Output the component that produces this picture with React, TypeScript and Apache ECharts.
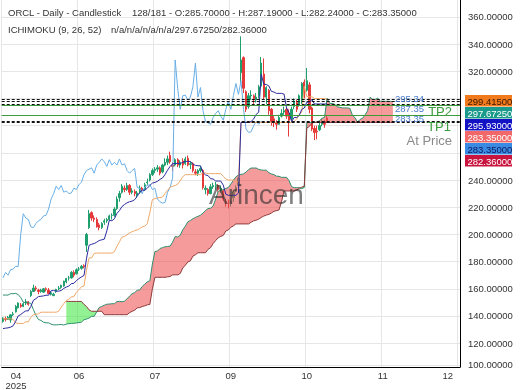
import React, { useEffect, useRef } from "react";
import * as echarts from "echarts";

// Look-back bars (not displayed) needed by the Ichimoku windows, Feb 10 – Apr 24 2025: [open, high, low, close]
const historyBars: number[][] = [
  [177, 181, 176, 180], [180, 182, 178, 179], [178, 181, 176, 180], [180, 182, 179, 181],
  [181, 182, 178, 179], [179, 182.3, 177, 178], [178, 182.5, 176, 177], [176, 178, 172, 174],
  [174, 175, 166, 167], [167, 170, 163, 164], [164, 166, 159, 162], [162, 166, 161, 164],
  [164, 165, 158, 159], [159, 167, 157, 166], [166, 168, 157, 158], [157, 160, 153, 157],
  [157, 161, 155, 160], [158, 159, 149, 150], [150, 153, 146, 152], [150, 151, 143, 146],
  [146, 148, 142, 144], [150, 155, 148, 151], [150, 151, 144, 145], [146, 150, 145, 149],
  [149, 152, 147, 151], [150, 151, 146, 147], [147, 153, 146, 152], [150, 153, 148, 150],
  [149, 153, 147, 152], [155, 157, 154, 156], [156, 157, 154, 155], [155, 156, 149, 150],
  [150, 151, 146, 147], [147, 148, 141, 142], [141, 142, 137, 140], [139, 142, 138, 141],
  [139, 145, 139, 144], [139, 141, 136, 138], [135, 136, 127, 128], [122, 130, 118.86, 124],
  [128, 131, 119.5, 121], [121, 139, 120, 137], [133, 134, 125, 129], [129, 133, 127, 132],
  [133, 135, 130, 132], [132, 134, 130, 131], [130, 132, 126, 128], [128, 129, 125, 128],
  [127, 128, 122.5, 124], [125, 129, 124, 128], [131, 134, 130, 133], [133, 137.5, 132, 137],
];

// Displayed daily bars, Apr 25 – Oct 28 2025: [open, high, low, close]
const bars: number[][] = [
  [136, 139, 135, 138.5], [138, 139.5, 136, 137.5], [137.5, 140, 137, 139], [137, 141, 135, 140.8],
  [141, 143, 140, 141.5], [143, 148, 142.5, 147], [146, 150, 145.5, 149.5], [148, 149.5, 146, 147],
  [147, 150, 146.5, 149], [149.5, 152.5, 148, 150.5], [150.5, 151, 147.5, 148.5], [155, 159, 154, 158],
  [158, 163, 157.5, 160.5], [160.5, 162, 158.5, 160], [159, 160, 156, 158], [158, 160, 157, 159],
  [157.5, 160.5, 157, 160], [160, 161, 158, 159.5], [159, 160.5, 156, 156.5], [156, 158, 155, 157],
  [155, 157, 154.5, 156], [158, 160, 157, 159.5], [160, 162, 159, 160.5], [161, 163, 160, 162.5],
  [162, 166, 161.5, 165.5], [165, 168, 164, 167.5], [168, 169.5, 166, 168], [168, 173, 167.5, 172],
  [172, 173.5, 168.5, 170], [171, 175, 170.5, 174], [174.5, 176, 173, 174.5], [175, 177.5, 174, 176.5],
  [177, 178, 175, 176.4], [192, 201, 187, 199.9], [205, 218, 204, 215.2], [216, 217, 210, 212],
  [212, 214, 209, 211], [211, 212.5, 205, 205.5], [207, 208.5, 203, 205], [205, 209, 204, 208],
  [209, 211.5, 207, 210], [210, 212, 208.5, 211], [211, 214.5, 210, 213.6], [214, 215.5, 211, 214],
  [214, 220, 213, 218.6], [219, 228, 218, 226], [227, 232, 224, 230], [231, 237, 230, 235.5],
  [234, 236, 231, 233], [233, 238, 232, 236], [236, 237, 229, 231], [231, 234, 229.5, 232],
  [231.5, 233, 228, 230], [229, 232, 227, 230.5], [231, 236, 230, 234], [234, 235, 231, 233],
  [233, 238, 232, 236.5], [238, 241, 236.5, 238.5], [240, 245, 239, 244], [244, 248.5, 243, 247],
  [247, 249.5, 245, 248], [248, 251, 246, 249], [249, 250, 243.5, 245], [246, 252, 245, 251],
  [251, 256, 250, 253], [253, 258, 251, 255.5], [258, 260.9, 252, 253.5], [251, 253, 246.5, 250],
  [251, 256, 250, 255], [255, 256, 249.5, 251], [251, 254.5, 249, 253], [254, 256, 248.5, 251],
  [252, 257, 251, 255.5], [256, 258, 250, 251], [251.5, 253.5, 248, 252], [252, 253, 245.5, 247],
  [246, 248, 243.5, 245], [245, 248, 243, 247], [247, 250, 245.5, 248.5], [247, 248, 233, 234.5],
  [233, 236, 229.5, 234], [233, 234, 228.5, 230], [230, 237, 229.5, 235], [235, 238, 233.5, 236],
  [236, 238.5, 233, 236.5], [236, 237, 231.5, 233], [233, 236, 230.5, 234], [232, 233, 224.5, 226],
  [224, 226, 220.5, 224], [223, 225.5, 219.02, 223], [223, 225, 220.5, 223.5], [227, 232.5, 224, 231],
  [232, 236, 231, 234.5], [236, 242, 234, 241.5], [319, 345.7, 312, 328.3], [330, 331, 304, 307.5],
  [305, 306, 290, 292], [294, 304, 292.5, 302], [302, 306, 299, 302.5], [302, 303, 296, 299],
  [299, 304, 297, 301], [302, 310, 300, 308.5], [309, 330.5, 307, 326], [318, 329.43, 299, 301],
  [301, 309, 296, 308], [306, 307, 288, 291], [292, 293, 280, 283], [285, 287, 279, 282],
  [282, 284, 277, 281], [281, 288, 280.5, 286], [287, 292, 286, 289], [290, 294, 288, 291],
  [292, 293, 285, 287], [289, 292, 272, 284], [285, 294, 284, 292], [294, 300, 292, 298],
  [297, 299, 290, 292], [296, 303, 294, 302], [298, 312, 296, 311], [312, 314, 300, 303],
  [306, 322.46, 305, 313], [310, 312, 289, 292], [293, 294, 276, 277.5], [278, 280, 269.4, 275],
  [276, 280, 270, 275.5], [277, 283, 276, 280], [281, 285, 279.5, 283], [283, 284, 278.5, 281],
  [285.7, 287.19, 282.24, 283.35],
];

const slotCount = 181;
const xLabels: Record<number, string> = { 0: "04", 30: "06", 60: "07", 90: "09", 120: "10", 150: "11", 180: "12" };
const yLabelValues = [120, 140, 160, 180, 200, 220, 240, 320, 340, 360];
const yGridValues = [120, 140, 160, 180, 200, 220, 240, 260, 280, 300, 320, 340, 360];
const dashedLevels = [299.415, 297.6725, 295.93, 283.35, 282.36];
const targetLevels = [295.34, 287.35];
const priceTags = [
  { text: "299.41500", bg: "#f07a1c", fg: "#3a1600" },
  { text: "297.67250", bg: "#1a9a8a", fg: "#ffffff" },
  { text: "295.93000", bg: "#1212c4", fg: "#ffffff" },
  { text: "283.35000", bg: "#f26868", fg: "#ffffff" },
  { text: "283.35000", bg: "#3a8ae4", fg: "#0c1a5a" },
  { text: "282.36000", bg: "#c8143e", fg: "#ffffff" },
];

const FONT = "Liberation Sans, Arial, sans-serif";

export default function App() {
  const ref = useRef<HTMLDivElement>(null);
  useEffect(() => {
    if (!ref.current) return;
    const chart = echarts.init(ref.current, undefined, { renderer: "svg" });
    const all = historyBars.concat(bars);
    const H0 = historyBars.length;
    const mid = (n: number, g: number): number | null => {
      if (g - n + 1 < 0 || g >= all.length) return null;
      let hi = -Infinity, lo = Infinity;
      for (let j = g - n + 1; j <= g; j++) { hi = Math.max(hi, all[j][1]); lo = Math.min(lo, all[j][2]); }
      return (hi + lo) / 2;
    };
    const tenkan = bars.map((_, k) => mid(9, k + H0));
    const kijun = bars.map((_, k) => mid(26, k + H0));
    const spanA: (number | null)[] = [];
    const spanB: (number | null)[] = [];
    for (let k = 0; k < bars.length + 26; k++) {
      const g = k - 26 + H0;
      const t = mid(9, g), kj = mid(26, g);
      spanA.push(t != null && kj != null ? (t + kj) / 2 : null);
      spanB.push(mid(52, g));
    }
    const chikou = bars.slice(26).map((b) => b[3]);
    const base = spanA.map((a, i) => (a != null && spanB[i] != null ? Math.min(a, spanB[i] as number) : null));
    const red = spanA.map((a, i) => (a != null && spanB[i] != null ? Math.max(a - (spanB[i] as number), 0) : null));
    const green = spanA.map((a, i) => (a != null && spanB[i] != null ? Math.max((spanB[i] as number) - a, 0) : null));
    const cats = Array.from({ length: slotCount }, (_, i) => String(i));

    const txt = (text: string, x: number, y: number, size: number, fill: string, align = "left") => ({
      type: "text", silent: true, z: 100,
      style: { text, x, y, fill, font: `${size}px ${FONT}`, textAlign: align, textVerticalAlign: "middle" },
    });

    const graphics: any[] = [
      { type: "line", silent: true, z: 0, shape: { x1: 0, y1: 365.5, x2: 460, y2: 365.5 }, style: { stroke: "#e6e6e6", lineWidth: 1 } },
      txt("ORCL - Daily - Candlestick", 8, 12, 9.5, "#333"),
      txt("128/181 - O:285.70000 - H:287.19000 - L:282.24000 - C:283.35000", 132, 12, 9.5, "#333"),
      txt("ICHIMOKU (9, 26, 52)", 8, 29, 9.5, "#333"),
      txt("n/a/n/a/n/a/n/a/297.67250/282.36000", 111, 29, 9.5, "#333"),
      txt("100.00000", 468, 364, 9.5, "#333"),
      txt("295.34", 395, 98.5, 9.5, "#4a7ccc"),
      txt("287.35", 395, 108.5, 9.5, "#4a7ccc"),
      txt("283.35", 395, 118.5, 9.5, "#4a7ccc"),
      txt("TP2", 452, 111.5, 13, "#3c9c3c", "right"),
      txt("TP1", 451, 126, 13, "#3c9c3c", "right"),
      txt("At Price", 452, 140.5, 13, "#8a8a8a", "right"),
      { type: "text", silent: true, z: 120, style: { text: "Arincen", x: 209, y: 194, fill: "rgba(45,45,45,0.62)", font: `28px ${FONT}`, textVerticalAlign: "middle" } },
    ];
    priceTags.forEach((t, i) => {
      graphics.push({ type: "rect", silent: true, z: 110, shape: { x: 465, y: 95 + 12 * i, width: 47, height: 11.5 }, style: { fill: t.bg } });
      graphics.push({ type: "text", silent: true, z: 111, style: { text: t.text, x: 467.5, y: 101 + 12 * i, fill: t.fg, font: `9.5px ${FONT}`, textVerticalAlign: "middle" } });
    });

    const lineSeries = (name: string, data: any[], color: string, width = 1) => ({
      name, type: "line", data, symbol: "none", showSymbol: false, connectNulls: false,
      lineStyle: { color, width }, itemStyle: { color }, silent: true,
    });

    chart.setOption({
      animation: false,
      grid: { left: 0, right: 60, top: 0, bottom: 21 },
      xAxis: {
        type: "category", data: cats, boundaryGap: true,
        axisLine: { show: true, lineStyle: { color: "#000", width: 1 } },
        axisTick: { show: false, alignWithLabel: true, interval: (i: number) => i % 30 === 0 },
        splitLine: { show: true, interval: (i: number) => i % 30 === 0, lineStyle: { color: "#e6e6e6", width: 1 } },
        axisLabel: {
          interval: (i: number) => i % 30 === 0,
          margin: 3, fontSize: 9.5, color: "#333", fontFamily: FONT,
          alignMinLabel: "left", alignMaxLabel: "right",
          formatter: (v: string) => {
            const i = parseInt(v, 10);
            if (i === 0) return "{a|" + xLabels[0] + "}\n{a|2025}";
            if (i === 180) return "{b|" + xLabels[180] + "}";
            return xLabels[i] || "";
          },
          rich: {
            a: { width: 26, align: "center", fontSize: 9.5, lineHeight: 10, color: "#333", fontFamily: FONT },
            b: { width: 22, align: "center", fontSize: 9.5, color: "#333", fontFamily: FONT },
          },
        },
      },
      yAxis: {
        type: "value", position: "right", min: 102.44, max: 372.44, scale: true,
        axisLine: { show: true, lineStyle: { color: "#000", width: 1 } },
        axisTick: { show: false, customValues: yGridValues },
        splitLine: { show: true, lineStyle: { color: "#e6e6e6", width: 1 } },
        axisLabel: { customValues: yLabelValues, margin: 8, fontSize: 9.5, color: "#333", fontFamily: FONT, formatter: (v: number) => v.toFixed(5) },
      },
      series: [
        lineSeries("Senkou A", spanA, "#2f8f6f"),
        lineSeries("Senkou B", spanB, "#8e3a3a"),
        { name: "cloudBase", type: "line", stack: "cloud", data: base, symbol: "none", lineStyle: { width: 0, opacity: 0 }, silent: true },
        { name: "cloudRed", type: "line", stack: "cloud", data: red, symbol: "none", lineStyle: { width: 0, opacity: 0 }, areaStyle: { color: "rgba(240,80,80,0.82)" }, silent: true },
        { name: "cloudGreen", type: "line", stack: "cloud", data: green, symbol: "none", lineStyle: { width: 0, opacity: 0 }, areaStyle: { color: "rgba(60,230,60,0.8)" }, silent: true },
        lineSeries("Chikou", chikou, "#68aee6"),
        lineSeries("Kijun", kijun, "#f0a868"),
        lineSeries("Tenkan", tenkan, "#2a2a9e"),
        {
          name: "ORCL", type: "candlestick", barWidth: 1.8, silent: true,
          data: bars.map((b) => [b[0], b[3], b[2], b[1]]),
          itemStyle: { color: "#1f9e6e", color0: "#e63a3a", borderColor: "#1f9e6e", borderColor0: "#e63a3a", borderWidth: 1 },
          markLine: {
            silent: true, symbol: ["none", "none"], label: { show: false },
            data: [
              ...dashedLevels.map((v) => ({ yAxis: v, lineStyle: { type: [3, 2], color: "#111", width: 1 } })),
              ...targetLevels.map((v) => ({ yAxis: v, lineStyle: { type: "solid", color: "#3c9c3c", width: 1 } })),
            ],
          },
        },
      ],
      graphic: graphics,
    });
    return () => chart.dispose();
  }, []);
  return <div ref={ref} style={{ position: "fixed", left: 0, top: 0, width: 520, height: 390 }} />;
}
